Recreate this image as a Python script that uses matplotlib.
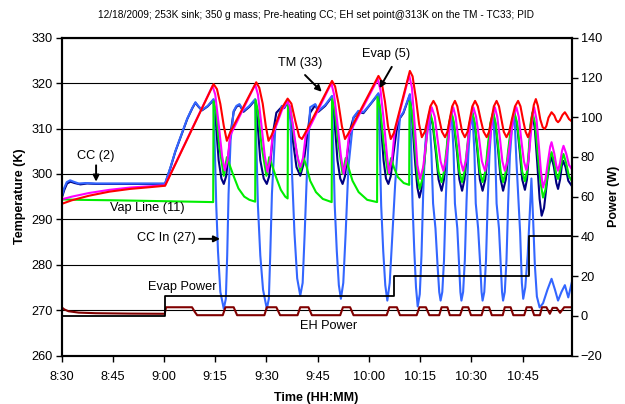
import matplotlib
matplotlib.use("Agg")
import matplotlib.pyplot as plt
from matplotlib.ticker import FixedLocator, FuncFormatter

plt.rcParams["font.family"] = ["Liberation Sans", "DejaVu Sans"]

# =========================
# DATA  (time = minutes after 8:30)
# =========================
TITLE = "12/18/2009; 253K sink; 350 g mass; Pre-heating CC; EH set point@313K on the TM - TC33; PID"

# TM (33) - red
tm_pts = [
    (0, 293.4), (3, 294.2), (8, 295.2), (14, 296.1), (20, 296.7), (26, 297.1), (30.3, 297.4),
    (44.5, 319.8), (45.5, 318.7), (46.5, 315.4), (47.5, 310.6), (48.4, 307.3), (49.4, 309.2),
    (57.0, 320.2), (57.9, 319.0), (58.9, 315.5), (59.8, 310.6), (60.6, 307.3), (61.5, 308.5),
    (64.5, 314.5), (66.2, 316.6), (67.3, 315.5), (68.5, 311.5), (69.6, 308.2), (70.4, 307.7), (71.2, 308.8),
    (79.2, 320.5), (80.1, 319.3), (81.1, 315.5), (82.1, 310.5), (83.0, 307.7), (83.9, 308.8),
    (92.8, 321.6), (93.7, 320.4), (94.7, 316.0), (95.6, 310.5), (96.4, 307.7), (97.3, 309.0),
    (102.0, 322.7), (102.8, 321.5), (103.8, 316.5), (104.7, 311.0), (105.5, 308.1),
    (106.4, 309.3), (107.2, 312.1), (108.0, 314.9), (108.9, 316.1), (109.8, 314.9), (110.6, 312.1),
    (111.4, 309.3), (112.3, 308.1), (113.0, 309.3), (113.7, 312.1), (114.4, 314.9), (115.2, 316.1),
    (115.9, 314.9), (116.6, 312.1), (117.3, 309.3), (118.1, 308.1), (118.9, 309.3), (119.6, 312.1),
    (120.3, 314.9), (121.1, 316.1), (121.9, 314.9), (122.7, 312.1), (123.6, 309.3), (124.5, 308.1),
    (125.2, 309.3), (125.9, 312.1), (126.6, 314.9), (127.4, 316.1), (128.1, 314.9), (128.8, 312.1),
    (129.5, 309.3), (130.3, 308.1), (131.1, 309.3), (131.9, 312.1), (132.8, 314.9), (133.7, 316.1),
    (134.4, 314.9), (135.1, 312.1), (135.9, 309.3), (136.6, 308.1), (137.2, 309.5), (137.7, 312.3),
    (138.3, 315.2), (138.9, 316.5), (139.5, 315.0), (140.2, 312.0), (140.9, 310.3), (141.5, 309.9),
    (142.0, 310.6), (142.6, 312.4), (143.5, 313.6), (144.3, 312.9), (144.9, 311.8), (145.4, 311.4),
    (145.9, 311.8), (146.7, 313.0), (147.4, 313.6), (148.0, 312.9), (148.6, 312.1), (149.4, 311.6),
]

# Evap (5) - magenta
evap_pts = [
    (0, 294.4), (3, 295.0), (8, 295.8), (14, 296.5), (20, 297.0), (26, 297.3), (30.3, 297.5),
    (44.2, 319.4), (45.0, 317.5), (46.0, 311.0), (47.0, 304.0), (47.8, 300.8), (48.6, 303.0), (49.4, 308.5),
    (56.7, 319.7), (57.5, 317.5), (58.5, 311.0), (59.5, 304.0), (60.3, 300.5), (61.1, 303.0), (61.8, 308.5),
    (64.5, 314.0), (66.0, 316.0), (66.8, 315.0), (67.8, 310.5), (69.0, 304.0), (69.9, 301.5),
    (70.7, 303.5), (71.5, 308.5),
    (79.0, 320.0), (79.8, 317.5), (80.8, 311.0), (81.8, 304.0), (82.6, 300.0), (83.4, 303.0), (84.2, 308.8),
    (92.6, 320.9), (93.4, 318.5), (94.4, 311.5), (95.3, 304.0), (95.9, 300.2), (96.8, 303.5), (97.5, 309.0),
    (101.8, 321.8), (102.6, 319.0), (103.5, 310.0), (104.2, 302.0), (105.0, 298.9),
    (105.9, 301.5), (106.7, 306.5), (107.6, 312.0), (108.4, 314.7), (109.3, 312.6), (110.1, 307.7),
    (111.0, 302.8), (111.8, 300.7), (112.5, 302.8), (113.3, 307.7), (114.0, 312.6), (114.7, 314.7),
    (115.4, 312.6), (116.2, 307.7), (116.9, 302.8), (117.6, 300.7), (118.4, 302.8), (119.1, 307.7),
    (119.9, 312.6), (120.6, 314.7), (121.4, 312.6), (122.3, 307.7), (123.1, 302.8), (124.0, 300.7),
    (124.7, 302.8), (125.5, 307.7), (126.2, 312.6), (126.9, 314.7), (127.6, 312.6), (128.4, 307.7),
    (129.1, 302.8), (129.8, 300.7), (130.6, 302.8), (131.5, 307.7), (132.3, 312.6), (133.2, 314.7),
    (133.9, 312.6), (134.6, 307.7), (135.4, 302.8), (136.1, 300.9), (136.7, 302.8), (137.3, 307.7),
    (137.9, 312.6), (138.4, 314.7), (139.1, 312.0), (139.8, 306.0), (140.4, 300.5), (141.0, 297.0),
    (141.7, 298.8), (142.5, 303.0), (143.1, 306.0), (143.5, 307.0), (144.3, 304.5), (144.9, 301.8),
    (145.4, 300.7), (146.0, 302.5), (146.6, 305.2), (147.0, 306.2), (147.8, 304.5), (148.6, 302.0),
    (149.4, 301.1),
]

# Vap Line (11) - green
vap_pts = [
    (0, 294.4), (5, 294.3), (15, 294.2), (30, 294.0), (44.4, 293.8),
    (44.5, 316.0), (45.2, 314.0), (46.2, 306.0), (47.5, 299.6), (48.4, 303.7), (49.2, 302.0),
    (50.4, 299.5), (51.8, 296.8), (53.5, 295.0), (55.0, 294.3), (56.7, 293.9),
    (56.8, 316.3), (57.5, 314.0), (58.6, 306.0), (60.0, 299.6), (60.8, 303.7), (61.6, 302.0),
    (62.8, 299.3), (64.2, 296.5), (65.5, 295.0), (66.2, 294.6),
    (66.3, 315.5), (67.0, 314.5), (68.2, 307.5), (69.9, 300.5), (70.9, 303.5), (71.8, 301.5),
    (72.8, 298.5), (74.5, 296.0), (76.5, 294.5), (79.1, 293.8),
    (79.2, 316.5), (80.0, 314.0), (81.0, 307.0), (82.3, 300.0), (83.2, 303.5), (84.0, 301.5),
    (85.2, 298.5), (87.0, 296.0), (89.5, 294.3), (92.4, 293.8),
    (92.5, 317.0), (93.3, 314.5), (94.3, 307.0), (95.6, 300.0), (96.5, 303.5), (97.3, 301.5),
    (98.5, 299.3), (100.2, 298.0), (101.8, 297.6),
    (101.9, 316.0), (102.6, 314.0), (103.5, 306.0), (104.3, 299.0),
    (104.9, 296.7), (105.7, 299.0), (106.5, 304.5), (107.2, 310.5), (107.9, 313.6), (108.7, 311.3),
    (109.6, 305.9), (110.4, 300.5), (111.3, 298.2), (112.0, 300.5), (112.8, 305.9), (113.5, 311.3),
    (114.2, 313.6), (114.9, 311.3), (115.8, 305.9), (116.5, 300.5), (117.3, 298.2), (118.0, 300.5),
    (118.8, 305.9), (119.5, 311.3), (120.3, 313.6), (121.0, 311.3), (121.8, 305.9), (122.5, 300.5),
    (123.3, 298.2), (124.1, 300.5), (124.8, 305.9), (125.6, 311.3), (126.4, 313.6), (127.1, 311.3),
    (127.9, 305.9), (128.6, 300.5), (129.3, 298.2), (130.1, 300.5), (130.9, 305.9), (131.8, 311.3),
    (132.6, 313.6), (133.4, 311.3), (134.2, 305.9), (134.9, 300.5), (135.7, 298.4), (136.3, 300.5),
    (136.9, 305.9), (137.4, 311.3), (137.9, 313.6), (138.7, 311.0), (139.5, 304.0), (140.3, 298.0),
    (141.0, 294.8), (141.7, 296.5), (142.5, 300.8), (143.1, 303.8), (143.5, 304.8), (144.3, 302.5),
    (144.9, 299.8), (145.4, 298.9), (146.0, 300.8), (146.6, 303.3), (147.0, 304.4), (147.8, 302.3),
    (148.6, 299.5), (149.4, 298.5),
]

# CC (2) - navy
cc_pts = [
    (0, 294.6), (0.8, 296.5), (1.6, 297.9), (2.6, 298.3), (3.8, 298.0), (5.5, 297.7), (7.5, 297.9),
    (10, 297.8), (20, 297.8), (30.3, 297.8),
    (31.9, 301.4), (33.3, 304.9), (34.8, 308.0), (36.8, 312.1), (38.3, 314.5), (39.2, 315.7),
    (40.0, 314.9), (41.1, 314.0), (42.8, 314.9), (44.5, 316.3),
    (45.2, 311.0), (46.0, 303.0), (46.8, 299.0), (47.5, 297.8), (48.2, 299.5), (48.9, 304.5),
    (49.6, 309.5), (50.4, 313.7), (51.2, 314.8), (52.1, 315.2), (53.3, 313.7), (55.0, 314.8), (56.7, 316.3),
    (57.4, 311.0), (58.2, 303.0), (59.2, 299.0), (60.1, 297.8), (60.8, 299.5), (61.4, 304.5),
    (62.0, 309.5), (62.9, 313.5), (64.5, 314.8), (65.2, 314.5), (66.2, 315.8),
    (67.0, 313.0), (67.8, 307.0), (68.8, 301.5), (69.9, 299.6), (70.8, 302.0), (71.8, 307.5),
    (72.8, 313.5), (74.3, 315.2), (75.2, 313.7), (77.2, 315.0), (79.2, 317.0),
    (80.0, 311.0), (80.8, 303.0), (81.6, 299.0), (82.3, 297.8), (83.0, 299.5), (83.7, 304.5),
    (84.6, 310.0), (85.5, 312.4), (86.9, 313.7), (88.4, 313.4), (90.5, 315.4), (92.8, 317.6),
    (93.5, 311.0), (94.3, 303.0), (95.0, 299.0), (95.7, 297.8), (96.4, 299.5), (97.2, 304.5),
    (98.2, 310.0), (99.1, 312.3), (100.1, 313.4), (102.0, 317.4),
    (102.8, 310.5), (103.6, 302.0), (104.2, 297.0), (104.8, 294.8), (105.6, 297.3), (106.4, 304.0),
    (107.1, 310.8), (107.9, 313.3), (108.7, 310.8), (109.6, 304.8), (110.4, 298.8), (111.3, 296.3),
    (112.0, 298.8), (112.8, 304.8), (113.5, 310.8), (114.2, 313.3), (114.9, 310.8), (115.8, 304.8),
    (116.5, 298.8), (117.3, 296.3), (118.0, 298.8), (118.8, 304.8), (119.5, 310.8), (120.3, 313.3),
    (121.0, 310.8), (121.8, 304.8), (122.5, 298.8), (123.3, 296.3), (124.1, 298.8), (124.8, 304.8),
    (125.6, 310.8), (126.4, 313.3), (127.1, 310.8), (127.9, 304.8), (128.6, 298.8), (129.3, 296.3),
    (130.1, 298.8), (130.9, 304.8), (131.8, 310.8), (132.6, 313.3), (133.4, 310.8), (134.2, 304.8),
    (134.9, 298.8), (135.7, 296.5), (136.3, 298.8), (136.9, 304.8), (137.4, 310.8), (137.9, 313.3),
    (138.6, 310.0), (139.3, 302.5), (140.0, 294.5), (140.6, 290.8), (141.3, 292.5), (142.2, 298.5),
    (142.9, 302.3), (143.5, 303.7), (144.2, 301.5), (144.9, 298.0), (145.4, 296.7), (146.0, 298.8),
    (146.5, 301.8), (146.9, 302.9), (147.6, 301.5), (148.4, 298.5), (149.4, 297.4),
]

# CC In (27) - blue
ccin_pts = [
    (0, 294.8), (0.7, 296.8), (1.5, 298.2), (2.5, 298.6), (3.5, 298.3), (5.0, 297.9), (7.0, 298.0),
    (10, 297.9), (20, 297.9), (30.3, 297.9),
    (31.9, 301.5), (33.3, 305.0), (34.8, 308.1), (36.8, 312.2), (38.3, 314.6), (39.2, 315.8),
    (40.0, 315.0), (41.1, 314.1), (42.8, 315.0), (44.5, 316.5),
    (44.9, 305.0), (45.3, 293.0), (45.8, 283.0), (46.5, 274.0), (47.5, 270.3), (48.1, 272.5),
    (48.5, 282.0), (48.9, 295.6), (49.5, 307.5), (50.4, 313.9), (51.2, 315.0), (52.1, 315.4),
    (53.3, 313.9), (55.0, 315.0), (56.7, 316.5),
    (57.1, 305.0), (57.5, 293.0), (58.2, 282.0), (59.0, 274.5), (60.1, 270.3), (60.7, 272.5),
    (61.1, 282.0), (61.6, 295.6), (62.6, 310.3), (64.5, 315.0), (65.2, 314.6), (66.2, 316.0),
    (67.0, 312.0), (67.5, 300.0), (68.2, 287.0), (69.0, 277.0), (69.9, 273.2), (70.6, 276.0),
    (71.2, 287.0), (71.8, 299.2), (72.8, 314.7), (74.3, 315.4), (75.2, 313.9), (77.2, 315.2), (79.2, 317.2),
    (79.6, 305.0), (80.0, 293.0), (80.6, 283.0), (81.2, 275.5), (81.8, 272.5), (82.5, 276.0),
    (83.2, 287.0), (84.0, 301.5), (85.5, 312.5), (86.9, 313.9), (88.4, 313.6), (90.5, 315.5), (92.8, 317.8),
    (93.2, 305.0), (93.6, 293.0), (94.2, 283.0), (94.8, 275.5), (95.4, 272.1), (96.1, 276.0),
    (96.9, 287.0), (97.7, 297.8), (99.1, 312.5), (100.1, 313.6), (102.0, 317.6),
    (102.4, 305.0), (102.8, 293.0), (103.3, 283.0), (103.8, 275.0), (104.3, 270.8),
    (104.9, 273.5), (105.4, 282.0), (105.9, 295.6), (106.4, 305.0), (106.9, 310.3), (107.7, 313.6),
    (108.3, 305.0), (108.8, 293.5), (109.5, 288.0), (110.1, 280.0), (110.6, 274.0), (111.0, 272.1),
    (111.5, 274.0), (112.0, 281.0), (112.5, 294.0), (113.0, 304.0), (113.5, 310.0), (114.2, 313.5),
    (114.8, 305.0), (115.2, 293.5), (115.9, 288.0), (116.4, 280.0), (116.8, 274.0), (117.1, 272.1),
    (117.6, 274.0), (118.1, 281.0), (118.6, 294.0), (119.1, 304.0), (119.6, 310.0), (120.3, 313.5),
    (120.9, 305.0), (121.3, 293.5), (122.0, 288.0), (122.6, 280.0), (123.0, 274.0), (123.3, 272.1),
    (123.8, 274.0), (124.3, 281.0), (124.8, 294.0), (125.3, 304.0), (125.8, 310.0), (126.4, 313.5),
    (127.0, 305.0), (127.4, 293.5), (128.1, 288.0), (128.6, 280.0), (129.0, 274.0), (129.3, 272.1),
    (129.8, 274.0), (130.3, 281.0), (130.8, 294.0), (131.3, 304.0), (131.9, 310.0), (132.6, 313.5),
    (133.2, 303.0), (133.7, 295.6), (134.3, 287.0), (134.8, 276.0), (135.2, 272.5), (135.8, 275.0),
    (136.5, 282.0), (137.1, 291.0), (137.6, 299.0), (138.1, 290.0), (138.6, 280.0), (139.2, 273.0),
    (140.0, 270.6), (141.0, 271.5), (142.3, 274.5), (143.5, 276.9), (144.5, 274.5), (145.4, 272.1),
    (146.4, 274.0), (147.4, 275.5), (148.4, 272.8), (149.4, 276.0),
]

# Evap Power (W) - step
evap_pow_t = [0, 30.3, 97.5, 136.9, 149.4]
evap_pow_w = [0, 10, 20, 40, 40]

# EH Power (W)
eh_pts = [
    (0, 4.3), (0.8, 3.2), (2.0, 2.3), (5.0, 1.6), (10, 1.3), (20, 1.1), (30.2, 1.0),
    (30.6, 4.3), (38.2, 4.3), (39.0, 2.0), (39.7, 0.3),
    (47.2, 0.3), (48.0, 4.3), (50.4, 4.3), (51.4, 0.3),
    (59.4, 0.3), (60.1, 4.3), (62.9, 4.3), (64.0, 0.3),
    (69.1, 0.3), (69.9, 4.3), (72.3, 4.3), (73.3, 0.3),
    (81.6, 0.3), (82.4, 4.3), (84.5, 4.3), (85.5, 0.3),
    (95.2, 0.3), (96.0, 4.3), (98.2, 4.3), (99.1, 0.3),
    (104.0, 0.3), (104.8, 4.3), (106.7, 4.3), (107.7, 0.3),
    (110.6, 0.3), (111.3, 4.3), (113.0, 4.3), (113.7, 0.3),
    (116.7, 0.3), (117.5, 4.3), (119.1, 4.3), (119.9, 0.3),
    (123.0, 0.3), (123.7, 4.3), (125.2, 4.3), (126.0, 0.3),
    (129.2, 0.3), (129.8, 4.3), (131.5, 4.3), (132.3, 0.3),
    (135.5, 0.3), (136.2, 4.3), (137.6, 4.3), (138.4, 0.3),
    (140.1, 0.3), (140.7, 4.3), (142.0, 4.3), (143.0, 1.0), (143.8, 4.0), (145.0, 4.0),
    (146.0, 1.5), (147.2, 4.3), (149.4, 4.3),
]

x_ticks = [0, 15, 30, 45, 60, 75, 90, 105, 120, 135]


def unzip(pts):
    return [p[0] for p in pts], [p[1] for p in pts]


def hhmm(m, pos=None):
    tot = 8 * 60 + 30 + int(round(m))
    return f"{tot // 60}:{tot % 60:02d}"


# =========================
# FIGURE
# =========================
fig = plt.figure(figsize=(6.25, 4.04), dpi=100)
ax = fig.add_axes([61.6 / 625, 1 - 355.5 / 404, (571.7 - 61.6) / 625, (355.5 - 37.8) / 404])
ax2 = ax.twinx()

lw = 1.5
for pts, col, z in [(cc_pts, "#000080", 2.0), (ccin_pts, "#3366FF", 2.1), (vap_pts, "#00EE00", 2.2),
                    (evap_pts, "#FF00FF", 2.3), (tm_pts, "#FF0000", 2.4)]:
    t, v = unzip(pts)
    ax.plot(t, v, color=col, lw=lw, zorder=z)

t, v = unzip(eh_pts)
ax2.plot(t, v, color="#800000", lw=lw)
ax2.plot(evap_pow_t, evap_pow_w, color="black", lw=1.3, drawstyle="steps-post")

ax.set_xlim(0, 149.4)
ax.set_ylim(260, 330)
ax2.set_ylim(-20, 140)
ax.set_yticks(range(260, 331, 10))
ax2.set_yticks(range(-20, 141, 20))
ax.xaxis.set_major_locator(FixedLocator(x_ticks))
ax.xaxis.set_major_formatter(FuncFormatter(hhmm))

ax.yaxis.grid(True, color="black", lw=0.8)
ax.set_axisbelow(True)

for a in (ax, ax2):
    for s in a.spines.values():
        s.set_linewidth(1.5)
    a.tick_params(direction="out", length=4, width=1, labelsize=9.2, colors="black", pad=2.5)
ax.tick_params(axis="x", pad=7)

ax.set_ylabel("Temperature (K)", fontsize=9, fontweight="bold", labelpad=4)
ax2.set_ylabel("Power (W)", fontsize=9, fontweight="bold", labelpad=4)
ax.set_xlabel("Time (HH:MM)", fontsize=9, fontweight="bold", labelpad=7)
fig.text(0.506, 1 - 15 / 404, TITLE, ha="center", va="center", fontsize=7.3)

# =========================
# ANNOTATIONS
# =========================
arr = dict(arrowstyle="-|>", color="black", lw=1.4, mutation_scale=9, shrinkA=0, shrinkB=0)
fs = 9.2


def arrow(x0, y0, x1, y1):
    ax.annotate("", xy=(x1, y1), xytext=(x0, y0), arrowprops=arr, zorder=5)


ax.text(10.1, 304.0, "CC (2)", ha="center", va="center", fontsize=fs)
arrow(10.1, 301.9, 10.1, 298.3)
ax.text(25.0, 292.5, "Vap Line (11)", ha="center", va="center", fontsize=fs)
ax.text(69.9, 324.4, "TM (33)", ha="center", va="center", fontsize=fs)
arrow(71.3, 321.8, 76.2, 318.1)
ax.text(95.0, 326.4, "Evap (5)", ha="center", va="center", fontsize=fs)
arrow(96.7, 323.6, 93.1, 318.9)
ax.text(30.8, 285.9, "CC In (27)", ha="center", va="center", fontsize=fs)
arrow(40.3, 285.7, 46.4, 285.7)
ax.text(35.3, 275.2, "Evap Power", ha="center", va="center", fontsize=fs)
ax.text(78.3, 266.5, "EH Power", ha="center", va="center", fontsize=fs)

plt.savefig("out.png", dpi=100)
